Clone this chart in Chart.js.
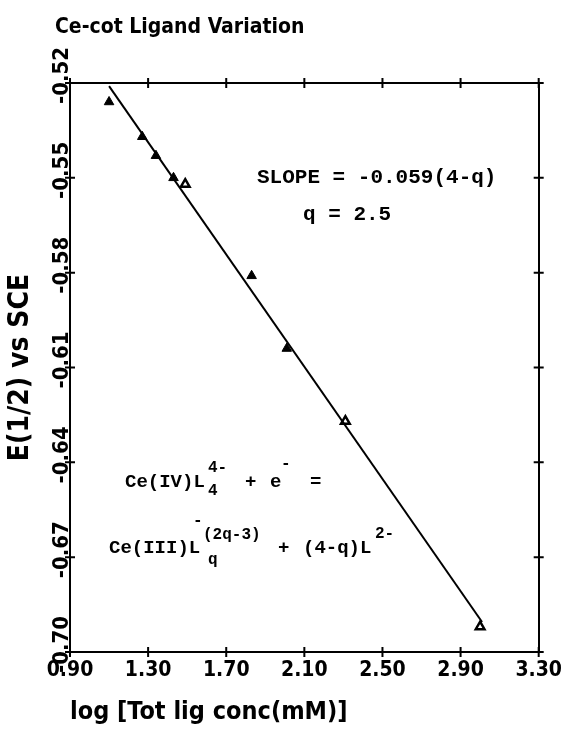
<!DOCTYPE html>
<html>
<head>
<meta charset="utf-8">
<script src="https://cdn.jsdelivr.net/npm/chart.js@4.4.0/dist/chart.umd.min.js"></script>
<style>
  html, body { margin: 0; padding: 0; background: #fff; }
  canvas { display: block; }
</style>
</head>
<body>
<canvas id="chart" width="568" height="732"></canvas>
<script>
// points: log[total ligand], E(1/2) vs SCE
const solidX = [1.10, 1.27, 1.34, 1.43, 1.83, 2.01];
const solidY = [-0.526, -0.537, -0.543, -0.550, -0.581, -0.604];
const openX = [1.49, 2.31, 3.00];
const openY = [-0.552, -0.627, -0.692];
// ends of the drawn fit line
const fitX = [1.10, 3.01];
const fitY = [-0.521, -0.6905];
const xTicks = [0.90, 1.30, 1.70, 2.10, 2.50, 2.90, 3.30];
const yTicks = [-0.52, -0.55, -0.58, -0.61, -0.64, -0.67, -0.70];

const plotFont = '"Liberation Sans Narrow", "DejaVu Sans Condensed", "Arial Narrow", sans-serif';
const typeFont = '"Courier New", "Liberation Mono", monospace';

const pairs = (xs, ys) => xs.map((v, i) => ({ x: v, y: ys[i] }));

// tick marks that cross the frame on all four sides
const frameTicks = {
    id: 'frameTicks',
    afterDraw(chart) {
        const { ctx, chartArea: a, scales: { x, y } } = chart;
        ctx.save();
        ctx.strokeStyle = '#000';
        ctx.lineWidth = 2;
        ctx.beginPath();
        x.ticks.forEach(t => {
            const px = x.getPixelForValue(t.value);
            ctx.moveTo(px, a.bottom - 5); ctx.lineTo(px, a.bottom + 5);
            ctx.moveTo(px, a.top - 5); ctx.lineTo(px, a.top + 5);
        });
        y.ticks.forEach(t => {
            const py = y.getPixelForValue(t.value);
            ctx.moveTo(a.left - 5, py); ctx.lineTo(a.left + 5, py);
            ctx.moveTo(a.right - 5, py); ctx.lineTo(a.right + 5, py);
        });
        ctx.stroke();
        ctx.restore();
    }
};

// title and the typed notes inside the plot
const notes = {
    id: 'notes',
    afterDraw(chart) {
        const ctx = chart.ctx;
        const put = (s, x, y, size) => {
            ctx.font = `bold ${size}px ${typeFont}`;
            ctx.fillText(s, x, y);
        };
        ctx.save();
        ctx.fillStyle = '#000';
        ctx.textBaseline = 'alphabetic';
        ctx.font = `bold 21px ${plotFont}`;
        ctx.fillText('Ce-cot Ligand Variation', 55, 33);

        put('SLOPE = -0.059(4-q)', 257, 183, 21);
        put('q = 2.5', 303, 220, 21);

        put('Ce(IV)L', 125, 487, 19);
        put('4-', 208, 472, 16);
        put('4', 208, 495, 16);
        put('+', 245, 487, 19);
        put('e', 270, 487, 19);
        put('-', 281, 468, 16);
        put('=', 310, 487, 19);

        put('Ce(III)L', 109, 553, 19);
        put('-', 193, 525, 16);
        put('(2q-3)', 203, 539, 16);
        put('q', 208, 564, 16);
        put('+', 278, 553, 19);
        put('(4-q)L', 303, 553, 19);
        put('2-', 375, 538, 16);
        ctx.restore();
    }
};

const frameAxis = {
    grid: { drawOnChartArea: false, drawTicks: false },
    border: { color: '#000', width: 2 }
};

new Chart(document.getElementById('chart'), {
    type: 'scatter',
    data: {
        datasets: [{
            data: pairs(fitX, fitY),
            showLine: true,
            borderColor: '#000',
            borderWidth: 2,
            pointRadius: 0
        }, {
            data: pairs(solidX, solidY),
            pointStyle: 'triangle',
            pointRadius: 5.5,
            backgroundColor: '#000',
            borderColor: '#000',
            borderWidth: 1
        }, {
            data: pairs(openX, openY),
            pointStyle: 'triangle',
            pointRadius: 5,
            backgroundColor: '#fff',
            borderColor: '#000',
            borderWidth: 2.5
        }]
    },
    options: {
        responsive: false,
        animation: false,
        layout: { padding: 0 },
        plugins: {
            legend: { display: false },
            tooltip: { enabled: false }
        },
        scales: {
            x: {
                ...frameAxis,
                type: 'linear',
                position: 'bottom',
                min: 0.9,
                max: 3.3,
                afterBuildTicks: s => { s.ticks = xTicks.map(v => ({ value: v })); },
                afterFit: s => { s.height = 80; },
                ticks: {
                    padding: 6,
                    maxRotation: 0,
                    autoSkip: false,
                    color: '#000',
                    font: { family: plotFont, size: 21, weight: 'bold' },
                    callback: v => Number(v).toFixed(2)
                },
                title: {
                    display: true,
                    text: 'log [Tot lig conc(mM)]',
                    align: 'start',
                    color: '#000',
                    padding: { top: 0, bottom: 5 },
                    font: { family: plotFont, size: 25, weight: 'bold' }
                }
            },
            y: {
                ...frameAxis,
                type: 'linear',
                position: 'left',
                min: -0.70,
                max: -0.52,
                afterBuildTicks: s => { s.ticks = yTicks.map(v => ({ value: v })); },
                afterFit: s => { s.width = 70; },
                ticks: {
                    minRotation: 90,
                    maxRotation: 90,
                    crossAlign: 'near',
                    padding: 8,
                    labelOffset: -36,
                    autoSkip: false,
                    color: '#000',
                    font: { family: plotFont, size: 22, weight: 'bold' },
                    callback: v => Number(v).toFixed(2)
                },
                title: {
                    display: true,
                    text: 'E(1/2) vs SCE',
                    color: '#000',
                    padding: { top: 4, bottom: 0 },
                    font: { family: plotFont, size: 28, weight: 'bold' }
                }
            },
            x2: {
                ...frameAxis,
                type: 'linear',
                position: 'top',
                min: 0.9,
                max: 3.3,
                ticks: { display: false },
                afterFit: s => { s.height = 83; }
            },
            y2: {
                ...frameAxis,
                type: 'linear',
                position: 'right',
                min: -0.70,
                max: -0.52,
                ticks: { display: false },
                afterFit: s => { s.width = 26; }
            }
        }
    },
    plugins: [frameTicks, notes]
});
</script>
</body>
</html>
